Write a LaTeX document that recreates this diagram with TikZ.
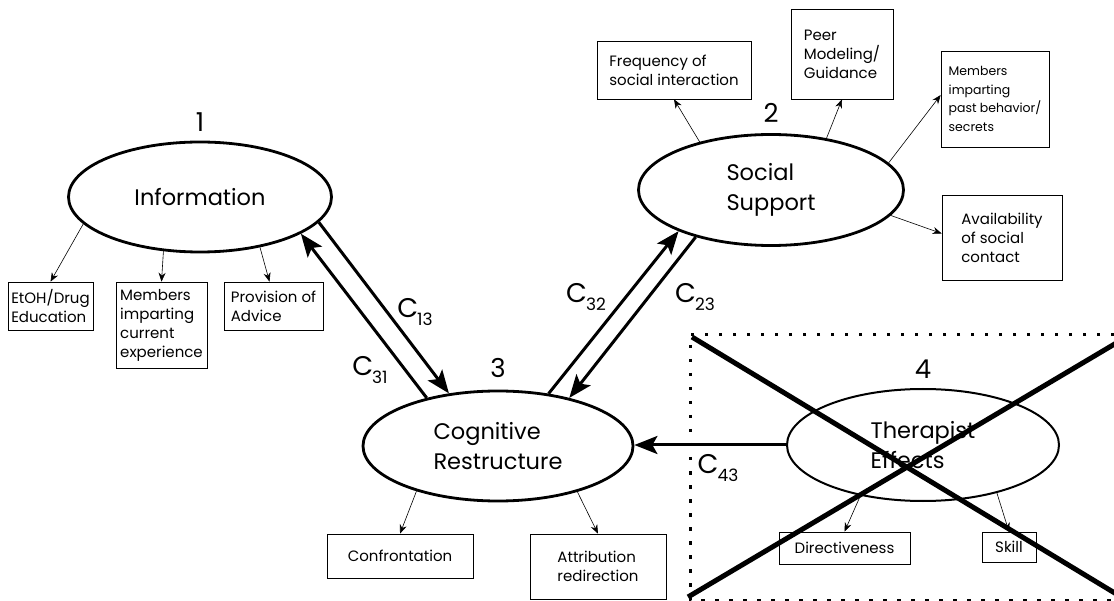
\documentclass[tikz,border=0pt]{standalone}
\usepackage{fontspec}
\setmainfont{Poppins}
\usepackage{tikz}
\usetikzlibrary{arrows.meta, positioning, shapes.geometric}

\newcommand{\cf}[1]{C\kern-1pt\raisebox{-0.6ex}{\fontsize{17}{17}\selectfont #1}}

\begin{document}
\begin{tikzpicture}[x=1pt, y=-1pt,
    factor/.style={ellipse, draw, line width=2.8pt, inner sep=0pt,
      align=left, font=\fontsize{22.5}{30}\selectfont},
    num/.style={inner sep=0pt, font=\fontsize{26}{26}\selectfont},
    item/.style={draw, line width=0.6pt, inner sep=2pt, align=left,
      font=\fontsize{15}{19}\selectfont},
    coef/.style={inner sep=0pt, font=\fontsize{27}{27}\selectfont},
    link/.style={-{Stealth[length=9pt, width=7pt]}, line width=0.6pt},
    flow/.style={-{Stealth[length=23pt, width=18pt, inset=5pt]}, line width=3pt}]
  \useasboundingbox (0,0) rectangle (1114,601);

  % Factors
  \node[factor, minimum width=263pt, minimum height=110pt]
    (info) at (200,197) {Information};
  \node[factor, minimum width=265pt, minimum height=111pt]
    (soc) at (771,190) {Social\\Support};
  \node[factor, minimum width=270pt, minimum height=110pt]
    (cog) at (498,446) {Cognitive\\Restructure};
  \node[factor, line width=2pt, minimum width=272pt, minimum height=112pt]
    (ther) at (923,445) {Therapist\\Effects};

  % Factor numbers
  \node[num, above=9pt of info] (n1) {1};
  \node[num, above=10pt of soc] (n2) {2};
  \node[num, above=12pt of cog] (n3) {3};
  \node[num, above=9pt of ther] (n4) {4};

  % Items of factor 1
  \node[item, minimum width=85pt, minimum height=48pt]
    (etoh) at (50.5,306) {EtOH/Drug\\Education};
  \node[item, minimum width=91pt, minimum height=86pt]
    (memcur) at (161.5,325) {Members\\imparting\\current\\experience};
  \node[item, minimum width=99pt, minimum height=48pt]
    (advice) at (273.5,306) {Provision of\\Advice};

  % Items of factor 2
  \node[item, minimum width=154pt, minimum height=58pt]
    (freq) at (674,70) {Frequency of\\social interaction};
  \node[item, minimum width=102pt, minimum height=90pt]
    (peer) at (842,54) {Peer\\Modeling/\\Guidance};
  \node[item, minimum width=108pt, minimum height=96pt,
    font=\fontsize{12.5}{18.5}\selectfont]
    (mempast) at (995,99) {Members\\imparting\\past behavior/\\secrets};
  \node[item, minimum width=120pt, minimum height=85pt]
    (avail) at (1002,237.5) {Availability\\of social\\contact};

  % Items of factor 3
  \node[item, minimum width=146pt, minimum height=44pt]
    (confront) at (400,556) {Confrontation};
  \node[item, minimum width=136pt, minimum height=65pt]
    (attrib) at (598,566.5) {Attribution\\redirection};

  % Items of factor 4
  \node[item, minimum width=131pt, minimum height=32pt]
    (direct) at (844.5,548) {Directiveness};
  \node[item, minimum width=54pt, minimum height=30pt]
    (skill) at (1009,547) {Skill};

  % Factor to item links
  \draw[link] (info.193) -- (etoh.north);
  \draw[link] (info.236) -- (memcur.north);
  \draw[link] (info.320) -- ([xshift=-4pt]advice.north);
  \draw[link] (soc.146) -- (freq.south);
  \draw[link] (soc.43) -- (peer.south);
  \draw[link] (soc.13) -- ([yshift=4pt]mempast.west);
  \draw[link] (soc.-12) -- ([yshift=4pt]avail.west);
  \draw[link] (cog.209) -- (confront.north);
  \draw[link] (cog.330) -- (attrib.north);
  \draw[link] (ther.219) -- (direct.north);
  \draw[link] (ther.327) -- (skill.north);

  % Paths between factors
  \draw[flow] (info.-12) -- (cog.133);
  \draw[flow] (cog.146) -- (info.-20);
  \draw[flow] (cog.46) -- (soc.204);
  \draw[flow] (soc.212) -- (cog.34);
  \draw[flow] (ther.west) -- (ther.west -| cog.east);

  % Path labels
  \node[coef] (c13) at (415,312) {\cf{13}};
  \node[coef] (c31) at (370,370) {\cf{31}};
  \node[coef] (c32) at (586,297) {\cf{32}};
  \node[coef] (c23) at (695,297) {\cf{23}};
  \node[coef] (c43) at (718,468) {\cf{43}};

  % Crossed out factor 4
  \draw[line width=3pt, dash pattern=on 3.5pt off 10.5pt]
    (1114,335) -- (690,335) -- (690,600) -- (1114,600);
  \draw[line width=5pt] (692,337) -- (1118,595);
  \draw[line width=5pt] (688,597) -- (1118,342);
\end{tikzpicture}
\end{document}
